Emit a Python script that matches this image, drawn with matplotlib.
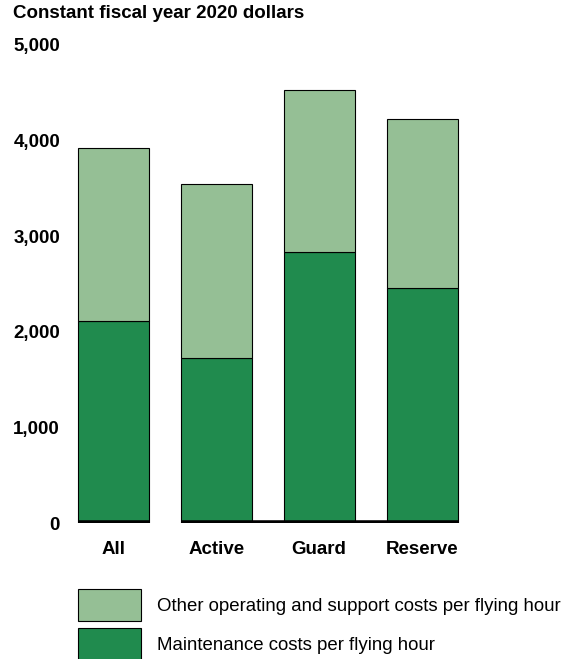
import matplotlib
matplotlib.use("Agg")
import matplotlib.pyplot as plt
from matplotlib.patches import Patch

categories = ["All", "Active", "Guard", "Reserve"]
maintenance = [2113, 1726, 2835, 2458]
other_costs = [1810, 1820, 1694, 1768]
y_ticks = [0, 1000, 2000, 3000, 4000, 5000]

DARK = "#208b4e"
LIGHT = "#95bf95"

plt.rcParams["font.family"] = ["Liberation Sans", "DejaVu Sans"]

W, H = 568, 659
fig = plt.figure(figsize=(W / 100, H / 100), dpi=100)
ax = fig.add_axes([76 / W, 1 - 523 / H, (460 - 76) / W, (523 - 45) / H])

pos = list(range(len(categories)))
width = 71 / 103
ax.bar(pos, maintenance, width=width, color=DARK, edgecolor="black", linewidth=0.8)
ax.bar(pos, other_costs, width=width, bottom=maintenance, color=LIGHT,
       edgecolor="black", linewidth=0.8)

# baseline: under All, then continuous from Active to Reserve
ax.hlines(0, pos[0] - width / 2, pos[0] + width / 2, color="black", linewidth=4, zorder=5)
ax.hlines(0, pos[1] - width / 2, pos[3] + width / 2, color="black", linewidth=4, zorder=5)

ax.set_xlim(-37.5 / 103, 3 + 38 / 103)
ax.set_ylim(0, 5000)
ax.set_yticks(y_ticks)
ax.set_yticklabels([f"{v:,}" for v in y_ticks], fontweight="bold", fontsize=13.5)
ax.set_xticks(pos)
ax.set_xticklabels(categories, fontweight="bold", fontsize=13.5)
ax.tick_params(axis="both", length=0)
ax.tick_params(axis="y", pad=11.5)
ax.tick_params(axis="x", pad=13)
for s in ax.spines.values():
    s.set_visible(False)

fig.text(13 / W, 1 - 14 / H, "Constant fiscal year 2020 dollars",
         fontweight="bold", fontsize=13.5, va="center", ha="left")

handles = [
    Patch(facecolor=LIGHT, edgecolor="black", linewidth=0.8,
          label="Other operating and support costs per flying hour"),
    Patch(facecolor=DARK, edgecolor="black", linewidth=0.8,
          label="Maintenance costs per flying hour"),
]
fig.legend(handles=handles, loc="upper left", bbox_to_anchor=(78 / W, 1 - 589 / H),
           frameon=False, fontsize=13.4, handlelength=3.39, handleheight=2.3,
           handletextpad=0.86, labelspacing=0.38, borderpad=0, borderaxespad=0)

fig.savefig("out.png", dpi=100)
